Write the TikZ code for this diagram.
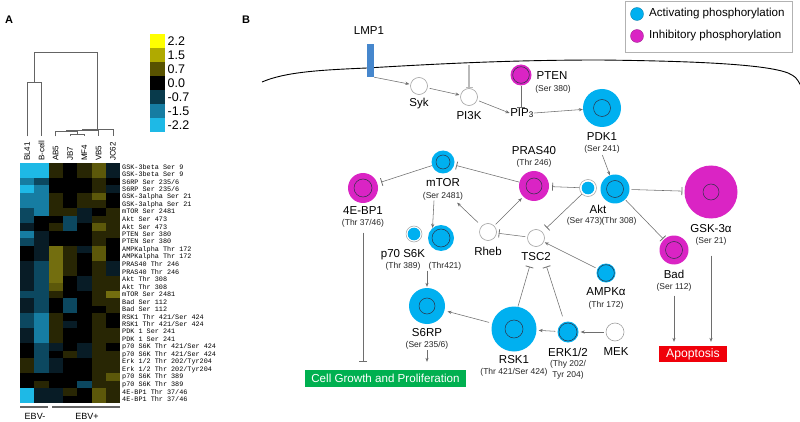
\documentclass[tikz,border=0pt]{standalone}
\usepackage{fontspec}
\setmainfont{Liberation Sans}
\newfontfamily\hmono{Liberation Mono}
\usetikzlibrary{arrows.meta}
\definecolor{cy}{RGB}{0,176,240}
\definecolor{mg}{RGB}{218,36,196}
\definecolor{ringc}{RGB}{45,50,70}
\definecolor{lmpc}{RGB}{70,135,205}
\definecolor{cgreen}{RGB}{0,176,80}
\definecolor{apred}{RGB}{240,0,10}
\definecolor{wcirc}{RGB}{160,160,160}
\definecolor{linec}{RGB}{110,110,110}
\definecolor{dendc}{RGB}{100,100,100}
% heatmap colours
\definecolor{hY}{RGB}{255,255,0}
\definecolor{hQ}{RGB}{176,170,0}
\definecolor{hO}{RGB}{115,110,15}
\definecolor{ho}{RGB}{92,88,10}
\definecolor{hq}{RGB}{88,82,0}
\definecolor{hd}{RGB}{40,38,4}
\definecolor{hK}{RGB}{0,0,0}
\definecolor{ht}{RGB}{8,28,38}
\definecolor{hT}{RGB}{12,72,96}
\definecolor{hS}{RGB}{8,58,75}
\definecolor{hB}{RGB}{22,125,162}
\definecolor{hC}{RGB}{30,185,230}
\tikzset{
  pnode/.style={circle, inner sep=0pt, minimum size=#1},
  actv/.style={pnode=#1, fill=cy},
  inhb/.style={pnode=#1, fill=mg},
  ring/.style={path picture={\draw[ringc, line width=0.5pt] (path picture bounding box.center) circle[radius=#1pt];}},
  wnode/.style={circle, draw=wcirc, fill=white, line width=0.6pt, minimum size=17, inner sep=0pt},
  sring/.style={circle, draw=wcirc, fill=white, line width=0.5pt, minimum size=17, inner sep=0pt,
     path picture={\fill[cy] (path picture bounding box.center) circle[radius=6.3pt];}},
  lab/.style={font=\fontsize{11.5}{13}\selectfont, inner sep=0.5pt},
  sub/.style={font=\fontsize{8.5}{10}\selectfont, inner sep=0.5pt, text=black!85},
  arr/.style={draw=linec, line width=0.55pt, -{Stealth[length=4pt,width=3.2pt]}},
  inh/.style={draw=linec, line width=0.55pt, -{Bar[width=8pt,line width=0.8pt]}},
  dend/.style={draw=dendc, line width=0.8pt},
  hlab/.style={font=\hmono\fontsize{6.8}{7}\selectfont, inner sep=0pt, anchor=west},
  clab/.style={font=\fontsize{8}{9}\selectfont, inner sep=0pt, anchor=west, rotate=90},
  cbl/.style={font=\fontsize{12.5}{13}\selectfont, inner sep=0pt, anchor=west},
  panel/.style={font=\bfseries\fontsize{11}{12}\selectfont, inner sep=0pt},
  boxlab/.style={text=white, font=\fontsize{11.6}{13}\selectfont, inner sep=0pt},
  leglab/.style={font=\fontsize{11.6}{13}\selectfont, anchor=west, inner sep=0}
}
\begin{document}
\begin{tikzpicture}[x=1pt,y=-1pt]
\useasboundingbox (0,0) rectangle (800,422);
\fill[white] (0,0) rectangle (800,422);

% ---------------- Panel A ----------------
\node[panel] (pA) at (9,20) {A};
\node[panel] (pB) at (246,20) {B};

% colour bar
\foreach \c/\t [count=\k from 0] in {hY/2.2,hQ/1.5,hq/0.7,hK/0.0,hS/-0.7,hB/-1.5,hC/-2.2}{
  \fill[\c] (150,34.5+\k*13.9) rectangle (164.5,48.4+\k*13.9);
  \node[cbl] (cb\k) at (167.5,41.5+\k*13.9) {\t};
}

% heatmap
\foreach \row [count=\i] in {
 {C,C,d,K,d,o,t},{C,C,d,K,d,o,t},{B,T,K,K,K,d,K},{C,B,K,K,K,d,t},
 {B,B,d,K,d,o,K},{B,B,d,K,d,d,K},{T,B,d,d,t,K,d},{T,K,K,T,t,d,d},
 {t,K,d,T,K,o,d},{B,t,K,K,K,d,d},{T,t,K,K,K,d,K},{K,t,O,d,t,o,K},
 {K,t,O,d,K,o,K},{t,T,O,d,K,d,t},{t,T,O,d,K,d,t},{t,T,O,K,t,d,d},
 {t,T,o,K,t,d,d},{T,T,d,K,K,d,O},{t,T,K,T,K,d,d},{t,T,K,T,K,K,d},
 {T,B,d,K,K,d,K},{T,B,d,t,K,d,K},{t,B,d,K,K,d,d},{t,B,d,K,K,d,d},
 {K,T,t,K,t,d,K},{K,T,K,d,t,d,d},{d,T,t,K,K,d,d},{d,T,t,K,K,d,d},
 {K,K,K,K,K,d,o},{K,d,K,K,T,d,d},{C,t,t,d,K,o,d},{C,t,t,K,K,o,d}}{
  \foreach \c [count=\j] in \row {
    \fill[h\c] (20+\j*14.3-14.3,163+\i*7.5-7.5) rectangle (20.2+\j*14.3,163.2+\i*7.5);
  }
}
\foreach \t [count=\i] in {GSK-3beta Ser 9,GSK-3beta Ser 9,S6RP Ser 235/6,S6RP Ser 235/6,
 GSK-3alpha Ser 21,GSK-3alpha Ser 21,mTOR Ser 2481,Akt Ser 473,Akt Ser 473,PTEN Ser 380,
 PTEN Ser 380,AMPKalpha Thr 172,AMPKalpha Thr 172,PRAS40 Thr 246,PRAS40 Thr 246,
 Akt Thr 308,Akt Thr 308,mTOR Ser 2481,Bad Ser 112,Bad Ser 112,RSK1 Thr 421/Ser 424,
 RSK1 Thr 421/Ser 424,PDK 1 Ser 241,PDK 1 Ser 241,p70 S6K Thr 421/Ser 424,
 p70 S6K Thr 421/Ser 424,Erk 1/2 Thr 202/Tyr204,Erk 1/2 Thr 202/Tyr204,
 p70 S6K Thr 389,p70 S6K Thr 389,4E-BP1 Thr 37/46,4E-BP1 Thr 37/46}{
  \node[hlab] (hl\i) at (122,163+\i*7.5-3.75) {\t};
}
\foreach \t [count=\j] in {BL41,B-cell,AB5,JB7,MF4,VB5,JC62}{
  \node[clab] (cl\j) at (20+\j*14.3-7.15,161) {\t};
}

% dendrogram
\draw[dend] (27.1,136.5) -- (27.1,82) -- (41.4,82) -- (41.4,136.5);
\draw[dend] (34.2,82) -- (34.2,52) -- (97.7,52) -- (97.7,129);
\draw[dend] (70,136.5) -- (70,134) -- (84.3,134) -- (84.3,136.5);
\draw[dend] (55.7,136.5) -- (55.7,131) -- (77.2,131) -- (77.2,134);
\draw[dend] (66.4,131) -- (66.4,130) -- (98.6,130) -- (98.6,136.5);
\draw[dend] (82.5,130) -- (82.5,129) -- (112.9,129) -- (112.9,136.5);

% group bars
\draw[dendc, line width=1.2pt] (20,407) -- (48,407);
\draw[dendc, line width=1.2pt] (52,407) -- (120,407);
\node[font=\fontsize{9}{10}\selectfont, inner sep=0pt] (ebvn) at (35,416) {EBV-};
\node[font=\fontsize{9}{10}\selectfont, inner sep=0pt] (ebvp) at (87,416) {EBV+};

% ---------------- Panel B ----------------
% legend
\draw[gray!60, fill=white, line width=0.6pt] (625,1) rectangle (792,52);
\node[circle, fill=cy, draw=cy!70!black, line width=0.3pt, minimum size=13, inner sep=0] (lgA) at (637,14) {};
\node[circle, fill=mg, draw=mg!70!black, line width=0.3pt, minimum size=13, inner sep=0] (lgI) at (637,36) {};
\node[leglab] (lgAt) at (649,14) {Activating phosphorylation};
\node[leglab] (lgIt) at (649,36) {Inhibitory phosphorylation};

% membrane
\draw[black, line width=0.9pt] (262,82) .. controls (285,72) and (320,70) .. (367,68)
  .. controls (450,63) and (520,60) .. (600,60)
  .. controls (690,61) and (765,64) .. (788,73) .. controls (796,77) .. (801,86);

% LMP1
\node[fill=lmpc, minimum width=7, minimum height=33, inner sep=0] (LMP1) at (370.5,60.5) {};
\node[lab] (LMP1t) at (369,31) {LMP1};

% nodes
\node[wnode] (Syk) at (419,86) {};
\node[lab] (Sykt) at (419,104) {Syk};
\node[wnode] (PI3K) at (469,97) {};
\node[lab] (PI3Kt) at (469,116) {PI3K};
\node[lab] (PIP3) at (522,113) {PIP\textsubscript{3}};
\node[inhb=21, ring=8.3] (PTEN) at (521,75) {};
\node[lab] (PTENt) at (552,76) {PTEN};
\node[sub] (PTENs) at (553,89) {(Ser 380)};
\node[actv=38, ring=8.5] (PDK1) at (602,108) {};
\node[lab] (PDK1t) at (602,137) {PDK1};
\node[sub] (PDK1sub) at (602,149.5) {(Ser 241)};

\node[actv=23, ring=7] (mTOR) at (443,162) {};
\node[lab] (mTORt) at (443,183) {mTOR};
\node[sub] (mTORsub) at (443,196) {(Ser 2481)};

\node[inhb=30, ring=9] (4EBP1) at (363,188) {};
\node[lab] (4EBPt) at (363,211) {4E-BP1};
\node[sub] (4EBPsub) at (363,223) {(Thr 37/46)};

\node[inhb=30, ring=8] (PRAS40) at (534,186) {};
\node[lab] (PRASt) at (534,151) {PRAS40};
\node[sub] (PRASs) at (534,163) {(Thr 246)};

\node[sring] (AktS) at (588,188) {};
\node[actv=29, ring=8.5] (AktB) at (615,189) {};
\node[lab] (Aktt) at (598,209) {Akt};
\node[sub] (Akts1) at (584.5,221) {(Ser 473)};
\node[sub] (Akts2) at (619,221) {(Thr 308)};

\node[inhb=53, ring=8] (GSK) at (711,192) {};
\node[lab] (GSKt) at (711,229) {GSK-3α};
\node[sub] (GSKsub) at (711,241) {(Ser 21)};

\node[inhb=29, ring=8.5] (Bad) at (674,250) {};
\node[lab] (Badt) at (674,274) {Bad};
\node[sub] (Badsub) at (674,287) {(Ser 112)};

\node[fill=apred, minimum width=68, minimum height=16, inner sep=0] (Apop) at (693,354) {};
\node[boxlab, font=\fontsize{12.2}{13}\selectfont] (Apopt) at (693,354) {Apoptosis};

\node[wnode] (Rheb) at (488,232) {};
\node[lab] (Rhebt) at (488,251) {Rheb};
\node[wnode] (TSC2) at (536,238) {};
\node[lab] (TSC2sub) at (536,257) {TSC2};

\node[actv=19, ring=8.3] (AMPK) at (606,273) {};
\node[lab] (AMPKt) at (606,292) {AMPKα};
\node[sub] (AMPKs) at (606,305) {(Thr 172)};

\node[sring, minimum size=16] (p70S) at (414,234) {};
\node[actv=26, ring=9] (p70B) at (441,238) {};
\node[lab] (p70t) at (403,255) {p70 S6K};
\node[sub] (p70sa) at (403,266) {(Thr 389)};
\node[sub] (p70sb) at (445,266) {(Thr421)};

\node[actv=36, ring=8] (S6RP) at (427,306) {};
\node[lab] (S6RPt) at (427,333) {S6RP};
\node[sub] (S6RPsub) at (427,345.5) {(Ser 235/6)};

\node[actv=45, ring=9] (RSK1) at (514,329) {};
\node[lab] (RSK1t) at (514,360) {RSK1};
\node[sub] (RSK1s) at (514,372) {(Thr 421/Ser 424)};

\node[actv=21, ring=9] (ERK) at (568,332) {};
\node[lab] (ERKt) at (568,352) {ERK1/2};
\node[sub] (ERKs1) at (568,364) {(Thy 202/};
\node[sub] (ERKs2) at (568,375) {Tyr 204)};

\node[wnode, minimum size=18] (MEK) at (615,332) {};
\node[lab] (MEKt) at (616,352) {MEK};

\node[fill=cgreen, minimum width=161, minimum height=17, inner sep=0] (CG) at (385.5,378.5) {};
\node[boxlab] (CGt) at (385.5,378.5) {Cell Growth and Proliferation};

% connectors
\coordinate (memPI) at (469,65.5);
\draw[draw=gray!55, line width=1.3pt, -{Bar[width=7pt]}] (memPI) -- (PI3K.north);
\draw[arr, shorten >=1pt] (LMP1.south east) -- (Syk);
\draw[arr, shorten <=2pt, shorten >=1pt] (Syk) -- (PI3K);
\draw[arr, shorten <=2pt] (PI3K) -- (PIP3.west);
\draw[inh] (PTEN) -- (PTEN |- PIP3.north);
\draw[arr] (PIP3.east) -- (PDK1);
\draw[arr, shorten <=1pt] (PDK1sub.south) -- (AktB);
\draw[inh, shorten >=3pt] (AktS) -- (PRAS40);
\draw[inh, shorten >=2pt] (PRAS40) -- (mTOR);
\draw[inh, shorten >=4pt] (mTOR) -- (4EBP1);
\draw[arr] ([xshift=-9pt]mTORsub.south) -- (p70B.130);
\draw[arr, shorten >=1pt] (p70sa.south -| S6RP.north) -- (S6RP.north);
\draw[arr, shorten <=3pt, shorten >=3pt] (RSK1) -- (S6RP);
\draw[arr, shorten >=8pt] (S6RPsub.south) -- (S6RPsub.south |- CG.north);
\draw[inh, shorten <=5pt, shorten >=8pt] (4EBPsub.south) -- (4EBPsub.south |- CG.north);
\draw[arr, shorten <=5pt, shorten >=3pt] (Rheb) -- ([xshift=12pt]mTORsub.south);
\draw[arr, shorten <=2pt, shorten >=2pt] (Rheb) -- (PRAS40);
\draw[inh, shorten <=2pt, shorten >=2pt] (TSC2) -- (Rheb);
\draw[inh, shorten >=6pt] (AktS.south west) -- (TSC2);
\draw[arr, shorten <=2pt, shorten >=1pt] (AMPK) -- (TSC2);
\draw[inh, shorten >=5pt] (RSK1.80) -- ([xshift=-5pt]TSC2sub.south);
\draw[inh, shorten <=6pt, shorten >=5pt] (ERK.110) -- ([xshift=9pt]TSC2sub.south);
\draw[arr, shorten <=2pt, shorten >=2pt] (ERK) -- (RSK1);
\draw[arr, shorten <=2pt, shorten >=2pt] (MEK) -- (ERK);
\draw[inh, shorten <=2pt, shorten >=2pt] (AktB) -- (GSK);
\draw[inh, shorten <=1pt, shorten >=1pt] (AktB) -- (Bad);
\draw[arr, shorten <=4pt, shorten >=4pt] (Badsub.south) -- (Badsub.south |- Apop.north);
\draw[arr, shorten <=10pt, shorten >=4pt] (GSKsub.south) -- (GSKsub.south |- Apop.north);
\end{tikzpicture}
\end{document}
